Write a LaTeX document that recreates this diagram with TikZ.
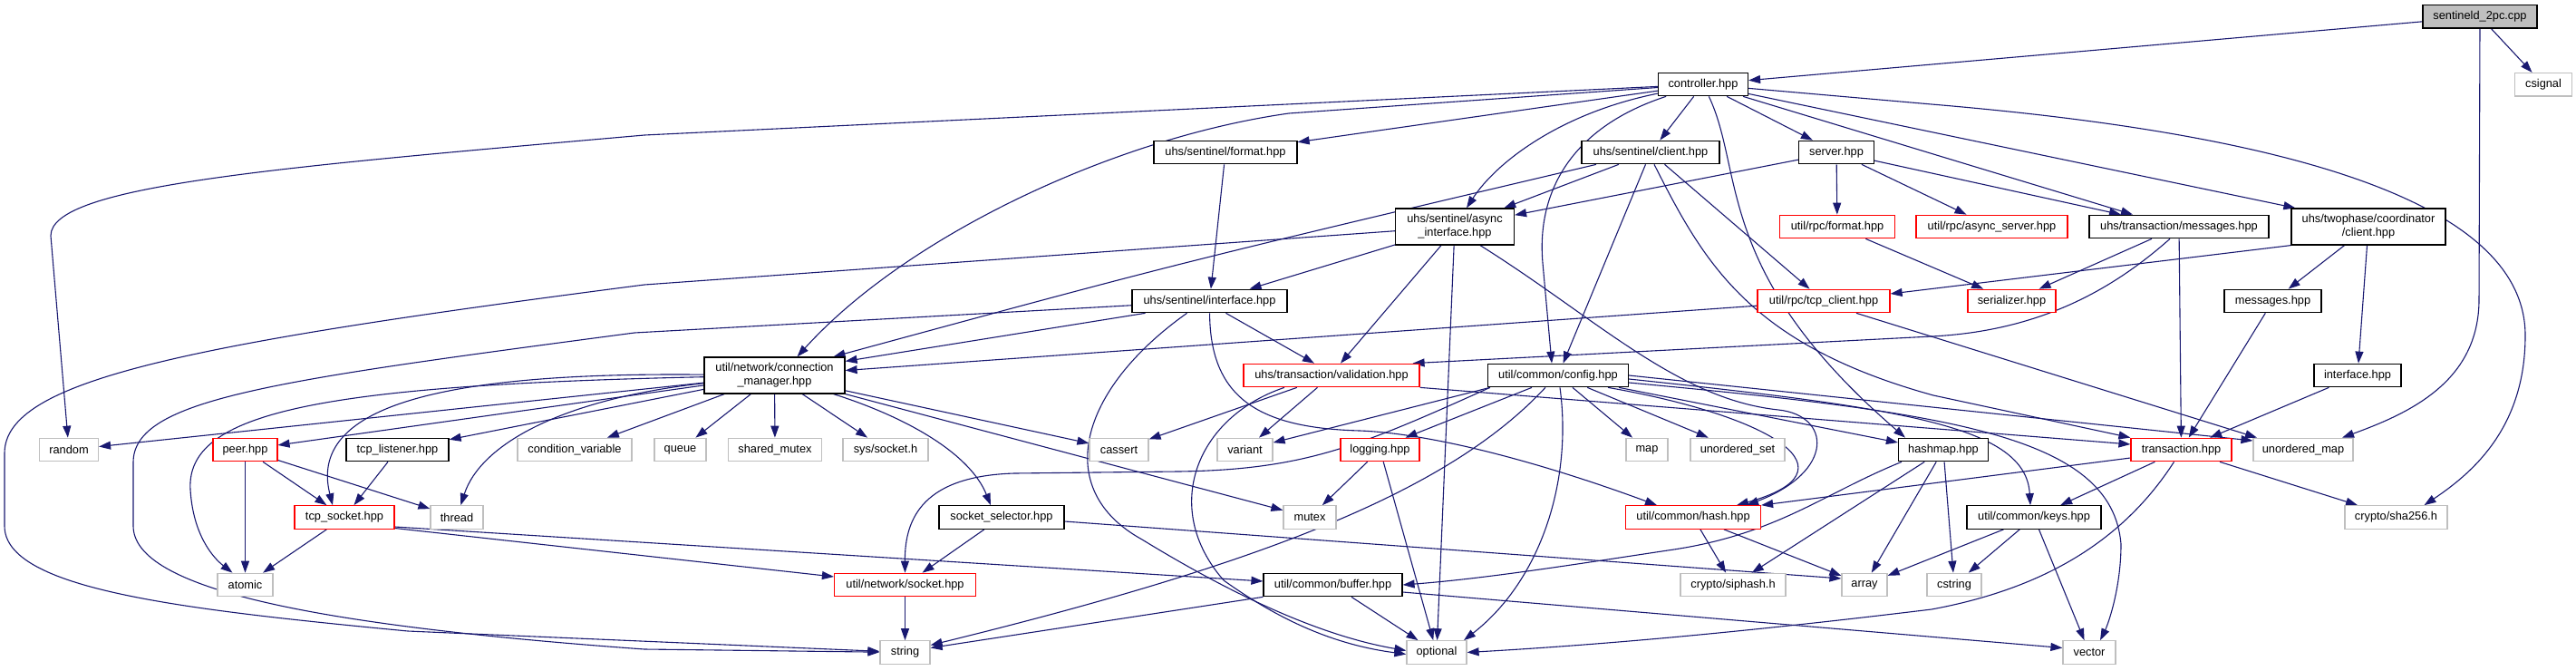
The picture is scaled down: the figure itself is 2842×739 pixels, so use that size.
\documentclass[tikz,border=0pt]{standalone}
\usepackage{fontspec}
\setmainfont{Liberation Sans}
\usetikzlibrary{arrows.meta}
\definecolor{edgec}{HTML}{191970}
\definecolor{grayb}{HTML}{BFBFBF}
\pgfdeclarelayer{bg}
\pgfsetlayers{bg,main}
\tikzset{
  nd/.style={draw=black, line width=1.2pt, fill=white, inner sep=0pt, minimum height=25.5pt,
    font=\fontsize{12.8}{15}\selectfont, align=center},
  sys/.style={nd, draw=grayb},
  redbox/.style={nd, draw=red},
  tall/.style={minimum height=40pt},
  edg/.style={draw=edgec, line width=1.1pt, -{Triangle[length=13pt,width=9pt]}}
}
\begin{document}
\begin{tikzpicture}[x=1pt,y=-1pt]
\useasboundingbox (0,0) rectangle (2842,739);
% row 0-1
\node[nd, fill=grayb, minimum width=126pt] (sentineld) at (2736,18.3) {sentineld\_2pc.cpp};
\node[sys, minimum width=63pt] (csignal) at (2806,93.3) {csignal};
\node[nd, minimum width=99pt] (controller) at (1879,93) {controller.hpp};
% row 2
\node[nd, minimum width=158pt] (sformat) at (1352,168) {uhs/sentinel/format.hpp};
\node[nd, minimum width=152pt] (sclient) at (1821,168) {uhs/sentinel/client.hpp};
\node[nd, minimum width=83pt] (server) at (2026,168) {server.hpp};
% row 3
\node[nd, tall, minimum width=131pt] (async) at (1605,250) {uhs/sentinel/async\\\_interface.hpp};
\node[redbox, minimum width=127pt] (rpcformat) at (2027,250) {util/rpc/format.hpp};
\node[redbox, minimum width=167pt] (asyncserver) at (2197.5,250) {util/rpc/async\_server.hpp};
\node[nd, minimum width=198pt] (tmessages) at (2404,250) {uhs/transaction/messages.hpp};
\node[nd, tall, minimum width=170pt] (coord) at (2613,250) {uhs/twophase/coordinator\\/client.hpp};
% row 4
\node[nd, minimum width=171pt] (sinterface) at (1334.5,332) {uhs/sentinel/interface.hpp};
\node[redbox, minimum width=146pt] (tcpclient) at (2012,332) {util/rpc/tcp\_client.hpp};
\node[redbox, minimum width=97pt] (serializer) at (2219.5,332) {serializer.hpp};
\node[nd, minimum width=107pt] (messages) at (2507.5,332) {messages.hpp};
% row 5
\node[nd, tall, minimum width=155pt] (connmgr) at (854.5,414) {util/network/connection\\\_manager.hpp};
\node[redbox, minimum width=194pt] (validation) at (1469,414) {uhs/transaction/validation.hpp};
\node[nd, minimum width=155pt] (config) at (1719,414) {util/common/config.hpp};
\node[nd, minimum width=96pt] (interface) at (2601,414) {interface.hpp};
% row 6
\node[sys, minimum width=65pt] (random) at (76,496) {random};
\node[redbox, minimum width=71pt] (peer) at (270.5,496) {peer.hpp};
\node[nd, minimum width=113pt] (tcplistener) at (438.5,496) {tcp\_listener.hpp};
\node[sys, minimum width=126pt] (condvar) at (634,496) {condition\_variable};
\node[sys, minimum width=57pt] (queue) at (750.5,496) {queue};
\node[sys, minimum width=103pt] (sharedmutex) at (855,496) {shared\_mutex};
\node[sys, minimum width=94pt] (syssocket) at (977,496) {sys/socket.h};
\node[sys, minimum width=65pt] (cassert) at (1234.5,496) {cassert};
\node[sys, minimum width=61pt] (variant) at (1373.5,496) {variant};
\node[redbox, minimum width=87pt] (logging) at (1522.5,496) {logging.hpp};
\node[sys, minimum width=46pt] (map) at (1817,496) {map};
\node[sys, minimum width=104pt] (uset) at (1917,496) {unordered\_set};
\node[nd, minimum width=99pt] (hashmap) at (2144,496) {hashmap.hpp};
\node[redbox, minimum width=111pt] (transaction) at (2406.5,496) {transaction.hpp};
\node[sys, minimum width=110pt] (umap) at (2541,496) {unordered\_map};
% row 7
\node[redbox, minimum width=110pt] (tcpsocket) at (380,570.5) {tcp\_socket.hpp};
\node[sys, minimum width=58pt] (thread) at (504,570.5) {thread};
\node[nd, minimum width=138pt] (sockselector) at (1105,570.5) {socket\_selector.hpp};
\node[sys, minimum width=58pt] (mutex) at (1445,570.5) {mutex};
\node[redbox, minimum width=149pt] (hash) at (1868,570.5) {util/common/hash.hpp};
\node[nd, minimum width=148pt] (keys) at (2244,570.5) {util/common/keys.hpp};
\node[sys, minimum width=113pt] (sha256) at (2643.5,570.5) {crypto/sha256.h};
% row 8
\node[sys, minimum width=61pt] (atomic) at (270.5,645) {atomic};
\node[redbox, minimum width=156pt] (socket) at (998.5,645) {util/network/socket.hpp};
\node[nd, minimum width=153pt] (buffer) at (1470.5,645) {util/common/buffer.hpp};
\node[sys, minimum width=116pt] (siphash) at (1912,645) {crypto/siphash.h};
\node[sys, minimum width=50pt] (array) at (2057,645) {array};
\node[sys, minimum width=60pt] (cstring) at (2156,645) {cstring};
% row 9
\node[sys, minimum width=55pt] (string) at (998.5,719.5) {string};
\node[sys, minimum width=66pt] (optional) at (1585,719.5) {optional};
\node[sys, minimum width=58pt] (vector) at (2305,719.5) {vector};

\begin{pgfonlayer}{bg}
% sentineld
\draw[edg] (sentineld) -- (controller);
\draw[edg] (sentineld) -- (csignal);
\draw[edg] (sentineld) -- (2735,330) .. controls (2735,420) and (2660,455) .. ([xshift=43]umap.north);
% controller
\draw[edg] (controller) -- (711,149) .. controls (300,185) and (56,205) .. (56,260) -- (random);
\draw[edg] (controller) -- (sformat);
\draw[edg] (controller) -- (1422,125) .. controls (1230,152) and (1000,260) .. ([xshift=25]connmgr.north);
\draw[edg] (controller) .. controls (1720,125) and (1650,180) .. ([xshift=13]async.north);
\draw[edg] (controller) .. controls (1735,140) and (1695,210) .. (1702,290) -- ([xshift=-7]config.north);
\draw[edg] (controller) -- (sclient);
\draw[edg] (controller) -- (server);
\draw[edg] (controller) .. controls (1925,190) and (1890,300) .. ([xshift=-42]hashmap.north);
\draw[edg] (controller) -- ([xshift=-51]tmessages.north);
\draw[edg] (controller) -- ([xshift=5]coord.north west);
\draw[edg] (controller) -- (2131,115) .. controls (2550,150) and (2786,230) .. (2786,370) .. controls (2786,470) and (2730,520) .. ([xshift=31]sha256.north);
% server
\draw[edg] (server) -- (async);
\draw[edg] (server) -- (rpcformat);
\draw[edg] (server) -- (asyncserver);
\draw[edg] (server) -- ([xshift=-64]tmessages.north);
% sentinel client
\draw[edg] ([xshift=-60]sclient.south) .. controls (1300,290) .. ([xshift=65]connmgr.north);
\draw[edg] (sclient) -- (async);
\draw[edg] (sclient) -- (config);
\draw[edg] ([xshift=4]sclient.south) .. controls (1880,290) and (1930,380) .. (2133,436) -- (transaction.north west);
\draw[edg] (sclient) -- (tcpclient);
% sentinel format
\draw[edg] (sformat) -- (sinterface);
% async interface
\draw[edg] (async) -- (sinterface);
\draw[edg] (async) -- (711,314) .. controls (200,380) and (5,420) .. (5,500) -- (5,580) .. controls (5,650) and (200,672) .. (450,696) -- (string);
\draw[edg] ([xshift=-15]async.south) -- ([xshift=10]validation.north);
\draw[edg] (async) -- (optional);
\draw[edg] ([xshift=28]async.south) .. controls (1760,350) and (1850,440) .. (1962,452) .. controls (2020,458) and (2025,520) .. ([xshift=59]hash.north);
% sentinel interface
\draw[edg] ([xshift=-71]sinterface.south) -- ([yshift=-5]connmgr.north east);
\draw[edg] ([xshift=-25]sinterface.south) .. controls (1190,430) and (1160,540) .. (1260,595) .. controls (1350,650) and (1450,700) .. ([yshift=2]optional.west);
\draw[edg] ([xshift=18]sinterface.south) -- ([xshift=-19]validation.north);
\draw[edg] (sinterface) .. controls (1335,440) and (1390,472) .. (1500,475) .. controls (1580,478) and (1700,510) .. ([xshift=-40]hash.north);
\draw[edg] (sinterface) -- (700,367) .. controls (300,420) and (147,440) .. (147,510) -- (147,580) .. controls (147,650) and (350,690) .. (711,716) -- (string);
% connection manager
\draw[edg] (connmgr) -- (random);
\draw[edg] (connmgr) -- (peer);
\draw[edg] (connmgr) -- (tcplistener);
\draw[edg] (connmgr) -- (condvar);
\draw[edg] (connmgr) .. controls (620,440) and (530,490) .. (thread);
\draw[edg] (connmgr) .. controls (480,410) and (340,450) .. ([xshift=-13]tcpsocket.north);
\draw[edg] (connmgr) .. controls (350,425) and (205,455) .. (210,540) .. controls (213,590) and (235,615) .. ([xshift=-14]atomic.north);
\draw[edg] (connmgr) -- (queue);
\draw[edg] (connmgr) -- (sharedmutex);
\draw[edg] (connmgr) -- (syssocket);
\draw[edg] (connmgr) .. controls (1000,460) and (1070,500) .. ([xshift=-12]sockselector.north);
\draw[edg] (connmgr) -- (cassert);
\draw[edg] (connmgr) -- (mutex);
% network
\draw[edg] (peer) -- (tcpsocket);
\draw[edg] (peer) -- (thread);
\draw[edg] (peer) -- (atomic);
\draw[edg] (tcplistener) -- (tcpsocket);
\draw[edg] (tcpsocket) -- (atomic);
\draw[edg] ([yshift=-10.5]tcpsocket.east) -- ([yshift=4]buffer.west);
\draw[edg] ([yshift=-12]tcpsocket.east) -- ([yshift=9]socket.west);
\draw[edg] (sockselector) -- (socket);
\draw[edg] ([yshift=-4.5]sockselector.east) -- ([yshift=7]array.west);
\draw[edg] (socket) -- (string);
% config
\draw[edg] ([xshift=3]config.south west) -- (variant);
\draw[edg] ([xshift=3]config.south west) .. controls (1500,492) and (1440,518) .. (1300,520) -- (1119,522) .. controls (1020,525) and (998,570) .. (socket.north);
\draw[edg] ([xshift=-29]config.south) -- ([xshift=28]logging.north);
\draw[edg] ([xshift=-14]config.south) .. controls (1600,540) and (1400,620) .. ([yshift=8]string.east);
\draw[edg] ([xshift=2]config.south) .. controls (1735,530) and (1700,640) .. ([xshift=30]optional.north);
\draw[edg] (config) -- (map);
\draw[edg] (config) -- (uset);
\draw[edg] ([xshift=55]config.south) .. controls (1960,460) and (2050,520) .. ([xshift=48]hash.north);
\draw[edg] ([xshift=67]config.south) -- ([yshift=8]hashmap.west);
\draw[edg] (config.east) -- ([yshift=10]umap.west);
\draw[edg] ([yshift=-4]config.east) .. controls (2100,450) and (2235,470) .. ([xshift=-4]keys.north);
\draw[edg] ([yshift=-8]config.east) .. controls (2150,455) and (2330,480) .. (2340,600) .. controls (2340,650) and (2325,690) .. ([xshift=12]vector.north);
% logging
\draw[edg] (logging) -- (mutex);
\draw[edg] (logging) -- (optional);
% validation
\draw[edg] (validation) -- (cassert);
\draw[edg] (validation) -- (variant);
\draw[edg] ([xshift=-52]validation.south) .. controls (1320,460) and (1280,560) .. (1350,640) .. controls (1420,690) and (1480,712) .. ([yshift=-2]optional.west);
\draw[edg] (validation.south east) -- ([yshift=6]transaction.west);
% transaction messages
\draw[edg] (tmessages) -- (serializer);
\draw[edg] ([xshift=-10]tmessages.south) .. controls (2330,320) and (2250,365) .. (2131,371) -- ([xshift=-8]validation.north east);
\draw[edg] (tmessages) -- (transaction);
% coordinator client
\draw[edg] (coord.south west) -- ([yshift=8]tcpclient.east);
\draw[edg] (coord) -- (messages);
\draw[edg] (coord) -- (interface);
\draw[edg] (messages) -- (transaction);
\draw[edg] (interface) -- (transaction);
\draw[edg] (rpcformat) -- (serializer);
% tcp client
\draw[edg] (tcpclient) -- (connmgr);
\draw[edg] ([xshift=36]tcpclient.south) -- ([xshift=-51]umap.north);
% transaction
\draw[edg] (transaction) -- (keys);
\draw[edg] ([xshift=-8]transaction.south) .. controls (2340,600) and (2250,650) .. (2131,672) .. controls (1900,700) and (1750,712) .. (optional.east);
\draw[edg] (transaction) -- (sha256);
\draw[edg] ([yshift=-9]transaction.west) -- (hash.north east);
% keys
\draw[edg] (keys) -- (array);
\draw[edg] (keys) -- (cstring);
\draw[edg] (keys) -- (vector);
% hashmap
\draw[edg] ([xshift=-46]hashmap.south) .. controls (2010,545) and (1960,590) .. (1840,607) .. controls (1740,622) and (1640,638) .. (buffer.east);
\draw[edg] (hashmap) -- (siphash);
\draw[edg] (hashmap) -- (array);
\draw[edg] (hashmap) -- (cstring);
% hash
\draw[edg] (hash) -- (siphash);
\draw[edg] (hash) -- (array);
% buffer
\draw[edg] (buffer) -- (optional);
\draw[edg] (buffer.south west) -- ([yshift=5]string.east);
\draw[edg] ([yshift=-8]buffer.east) -- ([yshift=5]vector.west);
\end{pgfonlayer}
\end{tikzpicture}
\end{document}
